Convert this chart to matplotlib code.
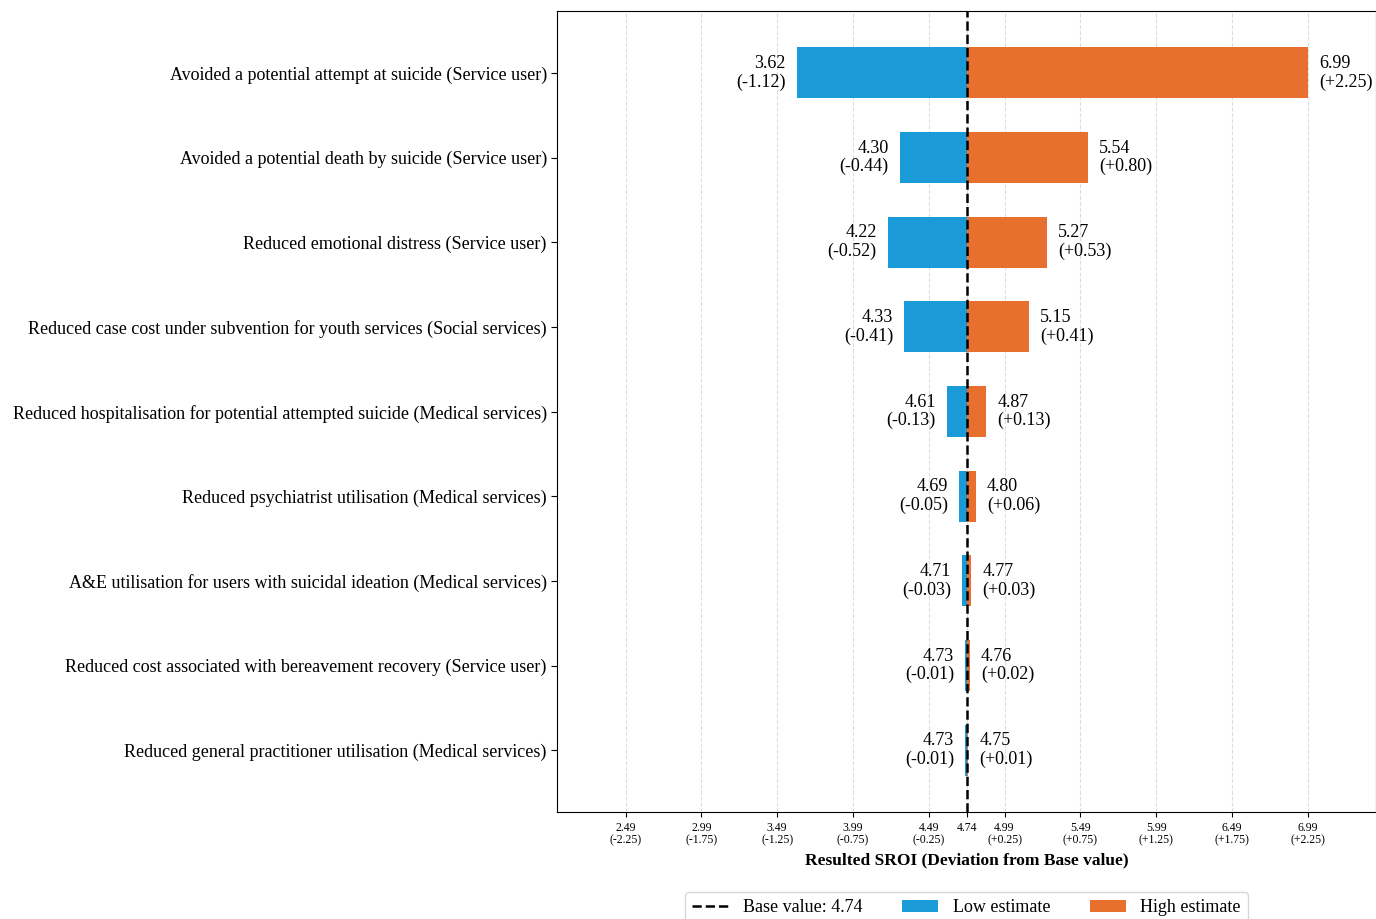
"""Tornado chart: one-way sensitivity of SROI to each outcome's low/high estimate."""

import matplotlib
matplotlib.use("Agg")
import matplotlib.pyplot as plt
import numpy as np

plt.rcParams["font.family"] = ["Liberation Serif", "DejaVu Serif"]

BASE = 4.74

OUTCOMES = [
    "Avoided a potential attempt at suicide (Service user)",
    "Avoided a potential death by suicide (Service user)",
    "Reduced emotional distress (Service user)",
    "Reduced case cost under subvention for youth services (Social services)",
    "Reduced hospitalisation for potential attempted suicide (Medical services)",
    "Reduced psychiatrist utilisation (Medical services)",
    "A&E utilisation for users with suicidal ideation (Medical services)",
    "Reduced cost associated with bereavement recovery (Service user)",
    "Reduced general practitioner utilisation (Medical services)",
]
LOW = [3.62, 4.30, 4.22, 4.33, 4.61, 4.69, 4.71, 4.73, 4.73]
HIGH = [6.99, 5.54, 5.27, 5.15, 4.87, 4.80, 4.77, 4.76, 4.75]
TICK_OFFSETS = [-2.25, -1.75, -1.25, -0.75, -0.25, 0.0, 0.25, 0.75, 1.25, 1.75, 2.25]

BLUE = "#1A9BD7"
ORANGE = "#E8702F"


def main():
    fig = plt.figure(figsize=(13.76, 9.19), dpi=100)
    ax = fig.add_axes([0.405, 0.1164, 0.595, 0.8716])

    y = np.arange(len(OUTCOMES))
    low = np.array(LOW)
    high = np.array(HIGH)
    h = 0.6

    ax.barh(y, low - BASE, left=BASE, height=h, color=BLUE, label="Low estimate", zorder=2)
    ax.barh(y, high - BASE, left=BASE, height=h, color=ORANGE, label="High estimate", zorder=2)
    ax.axvline(BASE, color="black", ls="--", lw=1.8, label=f"Base value: {BASE:.2f}", zorder=3)

    for i in range(len(OUTCOMES)):
        ax.annotate(f"{low[i]:.2f}\n({low[i] - BASE:+.2f})", (low[i], y[i]),
                    xytext=(-8, 0), textcoords="offset points",
                    ha="right", va="center", fontsize=13, linespacing=1.1)
        ax.annotate(f"{high[i]:.2f}\n({high[i] - BASE:+.2f})", (high[i], y[i]),
                    xytext=(8, 0), textcoords="offset points",
                    ha="left", va="center", fontsize=13, linespacing=1.1)

    ax.set_yticks(y)
    ax.set_yticklabels(OUTCOMES, fontsize=13)
    ax.tick_params(axis="y", length=4)
    ax.invert_yaxis()

    ticks = [BASE + d for d in TICK_OFFSETS]
    labels = [f"{BASE:.2f}" if d == 0 else f"{BASE + d:.2f}\n({d:+.2f})" for d in TICK_OFFSETS]
    ax.set_xticks(ticks)
    ax.set_xticklabels(labels, fontsize=8.5, linespacing=1.1)
    ax.set_xlim(BASE - 2.7, BASE + 2.7)
    ax.set_xlabel("Resulted SROI (Deviation from Base value)", fontsize=12.5, fontweight="bold",
                  labelpad=4)
    ax.grid(True, axis="x", ls="--", color="#dddddd", lw=0.8, zorder=0)
    ax.set_axisbelow(True)

    ax.legend(loc="upper center", bbox_to_anchor=(0.5, -0.1), ncol=3,
              fontsize=13, frameon=True, fancybox=True, columnspacing=2.2,
              borderaxespad=0)

    fig.savefig("out.png", dpi=100)


if __name__ == "__main__":
    main()
